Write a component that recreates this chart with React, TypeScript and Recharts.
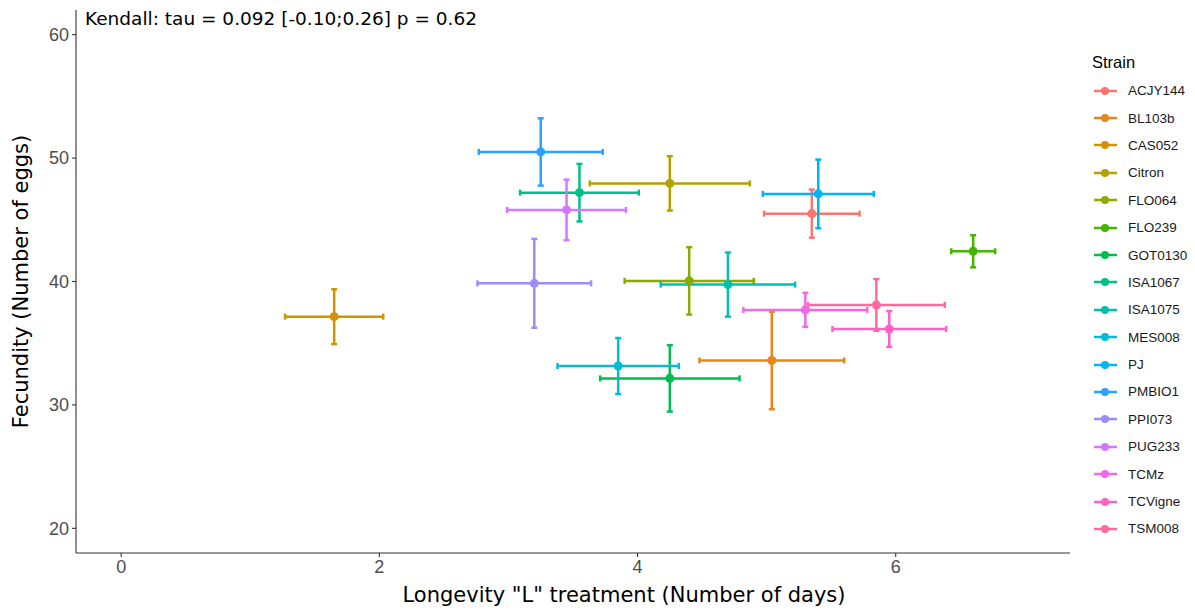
import React from 'react';
import { ScatterChart, Scatter, XAxis, YAxis, ZAxis, ErrorBar, Label } from 'recharts';

// strain order follows the legend
const strains = ['ACJY144', 'BL103b', 'CAS052', 'Citron', 'FLO064', 'FLO239', 'GOT0130', 'ISA1067', 'ISA1075', 'MES008', 'PJ', 'PMBIO1', 'PPI073', 'PUG233', 'TCMz', 'TCVigne', 'TSM008'];
const longevity = [5.35, 5.04, 1.65, 4.25, 4.40, 6.60, 4.25, 3.55, 4.70, 3.85, 5.40, 3.25, 3.20, 3.45, 5.30, 5.95, 5.85];
const longevityErr = [0.37, 0.56, 0.38, 0.62, 0.50, 0.17, 0.54, 0.46, 0.52, 0.47, 0.43, 0.48, 0.44, 0.46, 0.48, 0.44, 0.53];
const fecundity = [45.5, 33.6, 37.15, 47.95, 40.05, 42.45, 32.15, 47.2, 39.75, 33.15, 47.1, 50.5, 39.85, 45.8, 37.7, 36.15, 38.1];
const fecundityErr = [1.95, 3.95, 2.22, 2.2, 2.73, 1.3, 2.69, 2.33, 2.6, 2.27, 2.78, 2.73, 3.6, 2.45, 1.38, 1.45, 2.1];

const xTicks = [0, 2, 4, 6];
const yTicks = [20, 30, 40, 50, 60];

// ggplot2 hue palette, 17 levels
const COLORS = ['#F8766D', '#E7861B', '#D09400', '#B2A100', '#89AC00', '#45B500', '#00BC51', '#00C087', '#00C0B2', '#00BCD6', '#00B3F2', '#29A3FF', '#9C8DFF', '#D277FF', '#F168E8', '#FF61C7', '#FF6A9E'];

const rows = strains.map((name, i) => ({
  name,
  x: longevity[i],
  y: fecundity[i],
  xErr: longevityErr[i],
  yErr: fecundityErr[i],
}));

const axisColor = '#333333';
const tickStyle = { fill: '#4D4D4D', fontSize: 18, fontFamily: 'Liberation Sans, Arial, sans-serif' };
const titleFont = 'DejaVu Sans, Verdana, sans-serif';

const StrainLegend = () => (
  <div style={{ position: 'absolute', left: 1092, top: 50, fontFamily: 'Liberation Sans, Arial, sans-serif' }}>
    <div style={{ fontSize: 16.5, height: 27, lineHeight: '25px', color: '#000' }}>Strain</div>
    {strains.map((s, i) => (
      <div key={s} style={{ height: 27.4, display: 'flex', alignItems: 'center' }}>
        <svg width={26} height={14} style={{ flex: 'none' }}>
          <line x1={2} x2={25} y1={7} y2={7} stroke={COLORS[i]} strokeWidth={2.5} />
          <circle cx={13} cy={7} r={4} fill={COLORS[i]} />
        </svg>
        <span style={{ fontSize: 13.5, color: '#1A1A1A', marginLeft: 10 }}>{s}</span>
      </div>
    ))}
  </div>
);

export default function App() {
  return (
    <div style={{ position: 'absolute', left: 0, top: 0, width: 1195, height: 610, background: '#fff' }}>
      <ScatterChart width={1195} height={610} margin={{ top: 10, right: 125, bottom: 0, left: 0 }}>
        <XAxis
          type="number"
          dataKey="x"
          domain={[-0.35, 7.35]}
          ticks={xTicks}
          allowDataOverflow
          height={57}
          tickSize={4}
          tickMargin={3}
          tick={tickStyle}
          stroke={axisColor}
          axisLine={{ stroke: axisColor, strokeWidth: 1.1 }}
          tickLine={{ stroke: axisColor, strokeWidth: 1.1 }}
        >
          <Label
            value={'Longevity "L" treatment (Number of days)'}
            position="insideBottom"
            offset={8}
            dx={51}
            style={{ fontFamily: titleFont, fontSize: 21, fill: '#000' }}
          />
        </XAxis>
        <YAxis
          type="number"
          dataKey="y"
          domain={[18, 62]}
          ticks={yTicks}
          allowDataOverflow
          width={76}
          tickSize={4}
          tickMargin={3}
          tick={tickStyle}
          stroke={axisColor}
          axisLine={{ stroke: axisColor, strokeWidth: 1.1 }}
          tickLine={{ stroke: axisColor, strokeWidth: 1.1 }}
        >
          <Label
            value="Fecundity (Number of eggs)"
            angle={-90}
            position="insideLeft"
            offset={21}
            style={{ fontFamily: titleFont, fontSize: 21, fill: '#000', textAnchor: 'middle' }}
          />
        </YAxis>
        <ZAxis range={[55, 55]} />
        {rows.map((r, i) => (
          <Scatter key={r.name} name={r.name} data={[r]} fill={COLORS[i]} isAnimationActive={false}>
            <ErrorBar dataKey="xErr" direction="x" width={3} strokeWidth={2.5} stroke={COLORS[i]} />
            <ErrorBar dataKey="yErr" direction="y" width={3} strokeWidth={2.5} stroke={COLORS[i]} />
          </Scatter>
        ))}
      </ScatterChart>
      <div style={{ position: 'absolute', left: 85, top: 8, fontFamily: titleFont, fontSize: 18.5, color: '#000', whiteSpace: 'nowrap' }}>
        Kendall: tau = 0.092 [-0.10;0.26] p = 0.62
      </div>
      <StrainLegend />
    </div>
  );
}
